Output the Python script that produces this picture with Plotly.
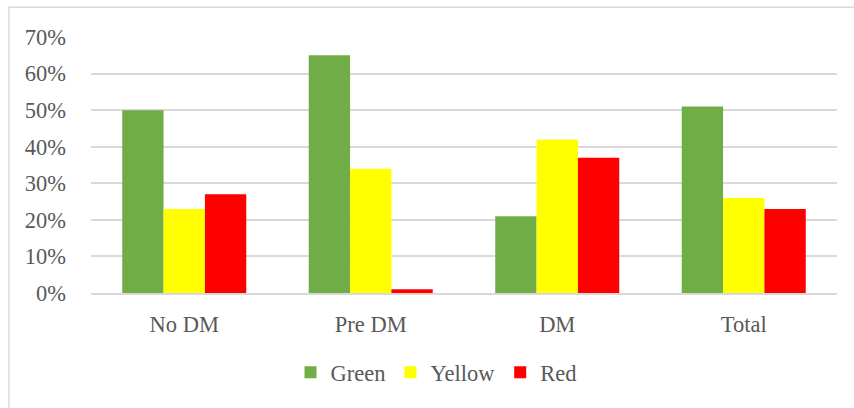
import plotly.graph_objects as go

categories = ["No DM", "Pre DM", "DM", "Total"]
green = [0.50, 0.65, 0.21, 0.51]
yellow = [0.23, 0.34, 0.42, 0.26]
red = [0.27, 0.01, 0.37, 0.23]
series_names = ["Green", "Yellow", "Red"]
series_colors = ["#70AD47", "#FFFF00", "#FF0000"]
tick_vals = [0, 0.1, 0.2, 0.3, 0.4, 0.5, 0.6, 0.7]
tick_text = ["0%", "10%", "20%", "30%", "40%", "50%", "60%", "70%"]

W, H = 854, 408
L, R, T, B = 91, 17, 36.7, 114.7
pw, ph = W - L - R, H - T - B

font = dict(family="'Times New Roman', 'Liberation Serif', 'DejaVu Serif', serif", size=22.5, color="#595959")

fig = go.Figure()
for name, vals, col in zip(series_names, [green, yellow, red], series_colors):
    fig.add_trace(go.Bar(x=categories, y=vals, name=name,
                         marker=dict(color=col, line=dict(width=0))))

def px_x(x):
    return (x - L) / pw

def px_y(y):
    return 1 - (y - T) / ph

fig.update_layout(
    width=W, height=H,
    margin=dict(l=L, r=R, t=T, b=B),
    paper_bgcolor="white", plot_bgcolor="white",
    barmode="group", bargap=0.335, bargroupgap=0,
    font=font,
    showlegend=True,
    legend=dict(orientation="h", x=px_x(436), xanchor="center",
                y=px_y(373), yanchor="middle", font=font,
                bgcolor="rgba(0,0,0,0)"),
    xaxis=dict(showgrid=False, showline=True, linecolor="#D9D9D9", linewidth=1.5,
               ticks="", tickfont=font, ticklabelstandoff=10),
    yaxis=dict(range=[0, 0.7], tickvals=tick_vals, ticktext=tick_text,
               showgrid=True, gridcolor="#D9D9D9", gridwidth=1.5,
               zeroline=False, showline=False, ticks="", tickfont=font,
               ticklabelstandoff=24),
    shapes=[dict(type="rect", xref="paper", yref="paper",
                 x0=px_x(9), x1=px_x(W + 20), y0=px_y(H + 20), y1=px_y(7),
                 line=dict(color="#D9D9D9", width=1.5), fillcolor="rgba(0,0,0,0)",
                 layer="below")],
)

fig.write_html("out.html")
